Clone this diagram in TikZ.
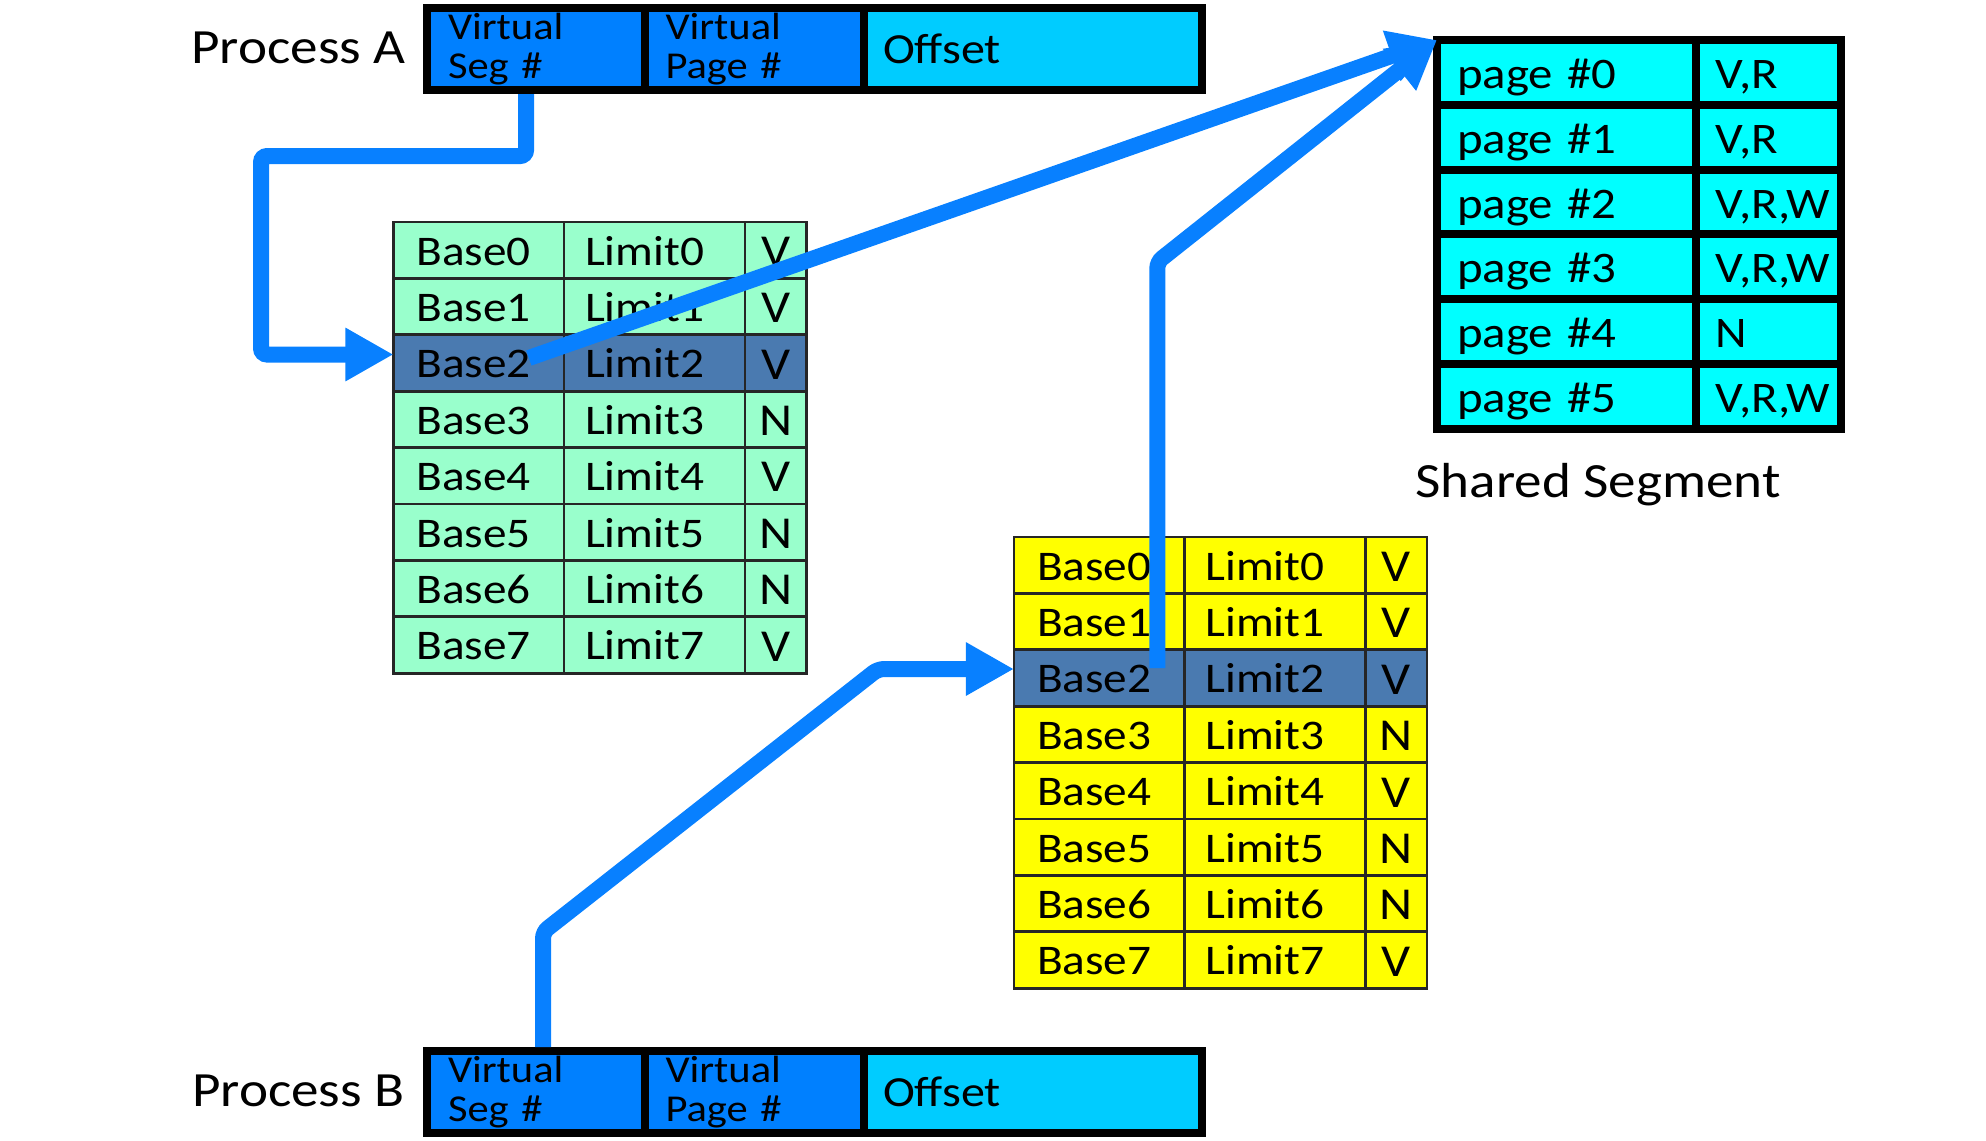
\documentclass[tikz,border=0pt]{standalone}
\usepackage{fontspec}
\setmainfont{Carlito}[FakeStretch=1.12]
\usetikzlibrary{arrows.meta,calc}
\definecolor{arrowblue}{RGB}{8,128,255}
\definecolor{segblue}{RGB}{0,128,255}
\definecolor{offcyan}{RGB}{0,204,255}
\definecolor{pagecyan}{RGB}{0,255,255}
\definecolor{mint}{RGB}{153,255,204}
\definecolor{steel}{RGB}{74,122,176}
\definecolor{yel}{RGB}{255,255,0}
\begin{document}
\begin{tikzpicture}[x=0.01cm, y=-0.01cm,
 cellbase/.style={anchor=north west, outer sep=0pt, inner ysep=0pt},
 segcell/.style={cellbase, draw=black!85, line width=0.027cm, minimum height=0.564cm, font=\fontsize{12}{14}\selectfont, text height=8.5pt, text depth=0pt},
 basecol/.style={segcell, text width=1.245cm, inner xsep=0.23cm, align=left},
 limcol/.style={segcell, text width=1.39cm, inner xsep=0.21cm, align=left},
 flagcol/.style={segcell, text width=0.615cm, inner xsep=0pt, align=center, font=\fontsize{13}{14}\selectfont, text height=9.2pt},
 pgcell/.style={cellbase, draw=black, line width=0.08cm, fill=pagecyan, minimum height=0.648cm, font=\fontsize{12.4}{14}\selectfont, text height=9.1pt, text depth=0pt},
 pgcol/.style={pgcell, text width=2.19cm, inner xsep=0.2cm, align=left},
 prcol/.style={pgcell, text width=1.06cm, inner xsep=0.195cm, align=left},
 barcell/.style={cellbase, draw=black, line width=0.08cm, minimum height=0.82cm, align=left},
 vcell/.style={barcell, fill=segblue, font=\fontsize{10.8}{11.1}\selectfont},
 offcell/.style={barcell, fill=offcyan, font=\fontsize{12.2}{14}\selectfont, text width=3.0cm, inner xsep=0.19cm},
 lbl/.style={anchor=base west, inner sep=0pt, font=\fontsize{14}{16}\selectfont},
 arr/.style={draw=arrowblue, line width=0.16cm, rounded corners=0.06cm, -{Triangle[length=0.48cm,width=0.5cm]}}
]
\useasboundingbox (0,0) rectangle (1986,1140);

% Process A address
\node[vcell, text width=1.76cm, inner xsep=0.21cm] (a1) at (427,8) {Virtual\\Seg \#};
\node[vcell, text width=1.78cm, inner xsep=0.205cm] (a2) at (645,8) {Virtual\\Page \#};
\node[offcell] (a3) at (864,8) {Offset};
% Process B address
\node[vcell, text width=1.76cm, inner xsep=0.21cm] (b1) at (427,1051) {Virtual\\Seg \#};
\node[vcell, text width=1.78cm, inner xsep=0.205cm] (b2) at (645,1051) {Virtual\\Page \#};
\node[offcell] (b3) at (864,1051) {Offset};

% labels
\node[lbl] (procA) at (190.7,63.3) {Process A};
\node[lbl] (procB) at (191.5,1106.7) {Process B};
\node[lbl] (shared) at (1414.8,497) {Shared Segment};

% segment table of process A (green)
\foreach \k/\f/\c in {0/V/mint,1/V/mint,2/V/steel,3/N/mint,4/V/mint,5/N/mint,6/N/mint,7/V/mint}{
  \node[basecol, fill=\c] (g\k-a) at (393.5,222+56.4*\k) {Base\k};
  \node[limcol, fill=\c] (g\k-b) at (564,222+56.4*\k) {Limit\k};
  \node[flagcol, fill=\c] (g\k-c) at (745,222+56.4*\k) {\f};
}
% segment table of process B (yellow)
\foreach \k/\f/\c in {0/V/yel,1/V/yel,2/V/steel,3/N/yel,4/V/yel,5/N/yel,6/N/yel,7/V/yel}{
  \node[basecol, fill=\c] (y\k-a) at (1014,537+56.4*\k) {Base\k};
  \node[limcol, fill=\c] (y\k-b) at (1184.5,537+56.4*\k) {Limit\k};
  \node[flagcol, fill=\c] (y\k-c) at (1365.5,537+56.4*\k) {\f};
}
% shared segment page table
\foreach \k/\f in {0/{V,R},1/{V,R},2/{V,R,W},3/{V,R,W},4/N,5/{V,R,W}}{
  \node[pgcol] (s\k-a) at (1437,40+64.8*\k) {page \#\k};
  \node[prcol] (s\k-b) at (1696,40+64.8*\k) {\f};
}

% connectors
\draw[arr] ([xshift=-0.1cm,yshift=-0.04cm]a1.south) -- ++(0,62) -- ++(-265,0) |- ([yshift=0.085cm]g2-a.west);
\draw[arr] ([xshift=0.5cm,yshift=0.05cm]g2-a.center) -- (s0-a.north west);
\draw[arr] ([xshift=0.58cm,yshift=0.1cm]y2-a.center) -- ++(0,-406) -- (s0-a.north west);
\draw[arr] ([xshift=0.07cm,yshift=0.04cm]b1.north) -- ++(0,-115) -- ++(335,-263) -- ([yshift=0.09cm]y2-a.west);
\end{tikzpicture}
\end{document}
